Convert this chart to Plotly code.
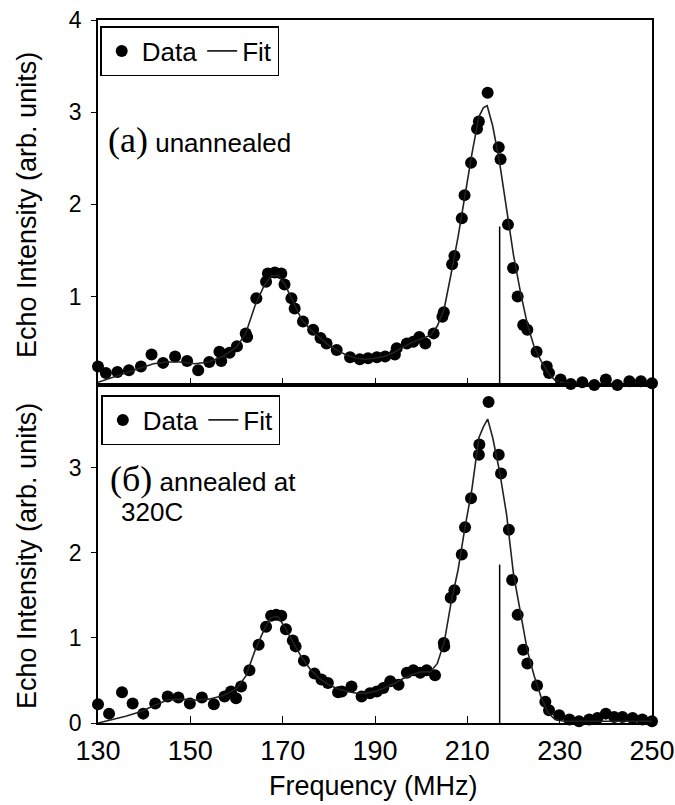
import plotly.graph_objects as go

# ---------------- data ----------------
freq_a = [130.0, 131.7, 134.2, 136.7, 139.3, 141.6, 144.1, 146.7, 149.3, 151.7, 154.1, 156.3,
          156.7, 158.5, 160.1, 162.0, 162.3, 164.3, 166.4, 166.8, 168.3, 169.7, 170.4, 171.9,
          172.6, 174.4, 176.6, 178.2, 179.5, 181.7, 184.6, 186.7, 188.5, 190.4, 192.2, 194.3,
          194.7, 196.9, 198.3, 199.6, 200.9, 202.7, 204.6, 204.9, 206.7, 207.2, 208.8, 209.4,
          210.8, 212.1, 212.5, 214.4, 216.8, 217.2, 218.8, 219.9, 220.9, 222.1, 223.0, 225.0,
          227.2, 227.7, 230.2, 232.4, 234.9, 237.5, 240.0, 242.5, 245.1, 247.6, 250.0]
data_a = [0.24, 0.17, 0.18, 0.20, 0.24, 0.37, 0.28, 0.35, 0.30, 0.20, 0.29, 0.40,
          0.30, 0.39, 0.46, 0.60, 0.56, 0.98, 1.16, 1.25, 1.26, 1.25, 1.13, 0.98,
          0.87, 0.73, 0.64, 0.55, 0.49, 0.42, 0.34, 0.32, 0.33, 0.34, 0.35, 0.37,
          0.44, 0.49, 0.51, 0.56, 0.49, 0.60, 0.78, 0.83, 1.35, 1.44, 1.85, 2.10,
          2.45, 2.82, 2.90, 3.21, 2.62, 2.49, 1.78, 1.31, 1.00, 0.69, 0.64, 0.40,
          0.24, 0.17, 0.10, 0.05, 0.07, 0.04, 0.10, 0.04, 0.08, 0.08, 0.06]

fit_freq_a = [130, 133, 136, 139, 142, 145, 148, 151, 154, 157, 160, 162, 164, 166, 167.5,
              169, 170.5, 172, 174, 176, 178, 180, 182, 184, 186, 188, 190, 192, 194, 196,
              198, 200, 202, 203.5, 205, 206.5, 208, 209.5, 211, 212.5, 213.5, 214.3, 215.5,
              217, 218.5, 220, 221.5, 223, 224.5, 226, 227.5, 229, 231, 235, 240, 245, 250]
fit_a = [0.07, 0.12, 0.17, 0.22, 0.27, 0.29, 0.29, 0.27, 0.29, 0.35, 0.45, 0.60, 0.90, 1.12, 1.22,
         1.23, 1.13, 0.97, 0.76, 0.64, 0.55, 0.47, 0.41, 0.36, 0.33, 0.32, 0.33, 0.35, 0.39, 0.45,
         0.50, 0.54, 0.58, 0.68, 0.87, 1.25, 1.65, 2.10, 2.55, 2.95, 3.05, 3.07, 2.85,
         2.45, 1.95, 1.45, 1.05, 0.70, 0.45, 0.30, 0.17, 0.09, 0.06, 0.05, 0.05, 0.05, 0.05]

freq_b = [130.0, 132.4, 135.2, 137.5, 139.8, 142.4, 145.1, 147.4, 149.9, 152.5, 155.1, 157.4,
          158.8, 159.9, 161.0, 162.8, 164.8, 166.4, 167.5, 168.6, 169.7, 170.7, 172.2, 172.8,
          174.6, 176.9, 178.4, 179.8, 182.0, 182.8, 184.9, 187.1, 188.9, 190.4, 191.8, 193.3,
          195.1, 196.9, 198.3, 199.8, 201.2, 203.0, 204.9, 205.0, 206.4, 207.2, 208.8, 209.5,
          210.8, 212.5, 212.6, 214.6, 216.8, 217.3, 219.0, 219.7, 220.9, 222.1, 223.0, 225.1,
          226.9, 227.7, 229.9, 232.1, 234.2, 236.4, 238.2, 240.0, 241.8, 243.6, 245.8, 247.9, 250.0]
data_b = [0.22, 0.11, 0.36, 0.23, 0.11, 0.23, 0.31, 0.30, 0.23, 0.30, 0.22, 0.31,
          0.37, 0.29, 0.43, 0.62, 0.92, 1.13, 1.26, 1.27, 1.26, 1.10, 0.97, 0.90,
          0.73, 0.58, 0.51, 0.47, 0.36, 0.37, 0.43, 0.31, 0.35, 0.37, 0.41, 0.49,
          0.45, 0.59, 0.62, 0.59, 0.62, 0.56, 0.94, 0.90, 1.47, 1.56, 1.98, 2.30,
          2.64, 3.15, 3.27, 3.77, 3.15, 2.93, 2.27, 1.68, 1.27, 0.86, 0.70, 0.44,
          0.25, 0.15, 0.09, 0.04, 0.02, 0.04, 0.06, 0.11, 0.07, 0.07, 0.06, 0.04, 0.02]

fit_freq_b = [130, 133, 136, 139, 142, 145, 148, 151, 154, 157, 160, 162, 164, 166, 167.5,
              169, 170.5, 172, 174, 176, 178, 180, 182, 184, 186, 188, 190, 192, 194, 196,
              198, 200, 202, 203.5, 205, 206.5, 208, 209.5, 211, 212.5, 213.5, 214.4, 215.5,
              217, 218.5, 220, 221.5, 223, 224.5, 226, 227.5, 229, 231, 240, 250]
fit_b = [0.00, 0.04, 0.08, 0.13, 0.20, 0.27, 0.28, 0.27, 0.28, 0.32, 0.40, 0.55, 0.85, 1.10, 1.24,
         1.25, 1.12, 0.97, 0.78, 0.63, 0.52, 0.45, 0.40, 0.37, 0.35, 0.35, 0.37, 0.41, 0.46, 0.52,
         0.57, 0.60, 0.60, 0.70, 0.95, 1.42, 1.80, 2.30, 2.75, 3.35, 3.48, 3.57, 3.35,
         2.95, 2.45, 1.75, 1.30, 0.85, 0.55, 0.30, 0.12, 0.04, 0.02, 0.02, 0.02]

marker_freq = [217.0, 217.0]
marker_a = [0.04, 1.76]
marker_b = [0.0, 1.86]

x_ticks = [130, 150, 170, 190, 210, 230, 250]
y_ticks_a = [1, 2, 3, 4]
y_ticks_b = [0, 1, 2, 3]

# ---------------- figure ----------------
FONT = "Liberation Sans, Arial, sans-serif"
W, H = 675, 805
ML, MR, MT, MB = 98, 23, 20, 82
PH = H - MT - MB

fig = go.Figure()

mk = dict(color="black", size=12)
ln = dict(color="#222", width=1.6)

fig.add_trace(go.Scatter(x=freq_a, y=data_a, mode="markers", marker=mk, name="Data",
                         xaxis="x", yaxis="y", legend="legend", cliponaxis=False))
fig.add_trace(go.Scatter(x=fit_freq_a, y=fit_a, mode="lines", line=ln, name="Fit",
                         xaxis="x", yaxis="y", legend="legend"))
fig.add_trace(go.Scatter(x=marker_freq, y=marker_a, mode="lines", line=dict(color="black", width=1.5),
                         showlegend=False, xaxis="x", yaxis="y"))

fig.add_trace(go.Scatter(x=freq_b, y=data_b, mode="markers", marker=mk, name="Data",
                         xaxis="x2", yaxis="y2", legend="legend2", cliponaxis=False))
fig.add_trace(go.Scatter(x=fit_freq_b, y=fit_b, mode="lines", line=ln, name="Fit",
                         xaxis="x2", yaxis="y2", legend="legend2"))
fig.add_trace(go.Scatter(x=marker_freq, y=marker_b, mode="lines", line=dict(color="black", width=1.5),
                         showlegend=False, xaxis="x2", yaxis="y2"))

split = (H - MB - 385) / PH
axis_common = dict(showline=True, linecolor="black", linewidth=1.5, mirror=True,
                   showgrid=False, zeroline=False, automargin=False, tickcolor="black")
xtickfont = dict(family=FONT, size=27, color="black")
ytickfont = dict(family=FONT, size=23, color="black")

fig.update_layout(
    width=W, height=H,
    margin=dict(l=ML, r=MR, t=MT, b=MB),
    paper_bgcolor="white", plot_bgcolor="white",
    xaxis=dict(**axis_common, range=[130, 250], domain=[0, 1], anchor="y",
               tickvals=x_ticks, showticklabels=False, ticks="inside", ticklen=7),
    yaxis=dict(**axis_common, range=[0.04, 4.0], domain=[split, 1], anchor="x",
               tickvals=y_ticks_a, ticks="outside", ticklen=5, tickfont=ytickfont,
               ticklabelstandoff=5),
    xaxis2=dict(**axis_common, range=[130, 250], domain=[0, 1], anchor="y2",
                tickvals=x_ticks, ticks="inside", ticklen=7, tickfont=xtickfont,
                ticklabelstandoff=3),
    yaxis2=dict(**axis_common, range=[0, 3.97], domain=[0, split], anchor="x2",
                tickvals=y_ticks_b, ticks="outside", ticklen=5, tickfont=ytickfont,
                ticklabelstandoff=5),
    legend=dict(x=0.004, y=(H - MB - 26) / PH, xanchor="left", yanchor="top", orientation="h",
                bgcolor="white", bordercolor="black", borderwidth=1.5,
                font=dict(family=FONT, size=26, color="black"), itemwidth=30,
                tracegroupgap=0),
    legend2=dict(x=0.006, y=(H - MB - 395) / PH, xanchor="left", yanchor="top", orientation="h",
                 bgcolor="white", bordercolor="black", borderwidth=1.5,
                 font=dict(family=FONT, size=26, color="black"), itemwidth=30,
                 tracegroupgap=0),
    showlegend=True,
)

def py(p):
    return (H - MB - p) / PH

def px(p):
    return (p - ML) / (W - ML - MR)

# axis titles
fig.add_annotation(xref="paper", yref="paper", x=px(27), y=py(205), xanchor="center", yanchor="middle",
                   textangle=-90, text="Echo Intensity (arb. units)", showarrow=False,
                   font=dict(family=FONT, size=27, color="black"))
fig.add_annotation(xref="paper", yref="paper", x=px(27), y=py(556), xanchor="center", yanchor="middle",
                   textangle=-90, text="Echo Intensity (arb. units)", showarrow=False,
                   font=dict(family=FONT, size=27, color="black"))
fig.add_annotation(xref="paper", yref="paper", x=px(373), y=py(786), xanchor="center", yanchor="middle",
                   text="Frequency (MHz)", showarrow=False,
                   font=dict(family=FONT, size=27, color="black"))

# panel labels
fig.add_annotation(xref="paper", yref="paper", x=px(106), y=py(140), xanchor="left", yanchor="middle",
                   text="<span style='font-family:Liberation Serif; font-size:36px'>(a)</span> unannealed",
                   showarrow=False, font=dict(family=FONT, size=26, color="black"))
fig.add_annotation(xref="paper", yref="paper", x=px(108), y=py(479), xanchor="left", yanchor="middle",
                   text="<span style='font-family:Liberation Serif; font-size:36px'>(б)</span> annealed at",
                   showarrow=False, font=dict(family=FONT, size=26, color="black"))
fig.add_annotation(xref="paper", yref="paper", x=px(119), y=py(512), xanchor="left", yanchor="middle",
                   text="320C", showarrow=False, font=dict(family=FONT, size=26, color="black"))

fig.write_html("out.html")
